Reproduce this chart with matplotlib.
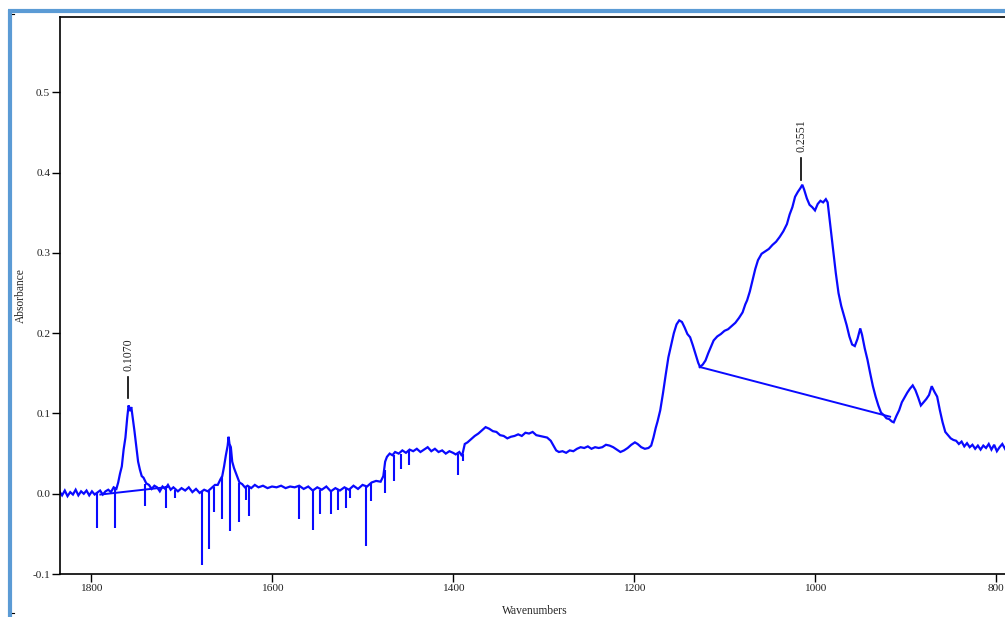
import matplotlib
matplotlib.use("Agg")
import matplotlib.pyplot as plt
from matplotlib.lines import Line2D

# ---- spectrum (wavenumber, absorbance) ----
wavenumber = [
    1835, 1832, 1829, 1826, 1823, 1820, 1817, 1814, 1811, 1808, 1805, 1802, 1799, 1796,
    1790, 1787, 1784, 1781, 1778, 1775, 1772, 1770, 1768, 1766, 1764, 1762, 1760, 1758.5,
    1757, 1755.5, 1754, 1752, 1750, 1748, 1746, 1744, 1742, 1739, 1736, 1733, 1730, 1727,
    1724, 1721, 1718, 1715, 1712, 1709, 1704, 1700, 1696, 1692, 1688, 1684, 1680, 1675,
    1671, 1667, 1663, 1660, 1657, 1655, 1653, 1651, 1649, 1648, 1647, 1645.5, 1644, 1642,
    1640, 1638, 1636, 1633, 1630, 1627, 1623, 1619, 1615, 1610, 1605, 1600, 1595, 1590,
    1585, 1580, 1575, 1570, 1565, 1560, 1555, 1550, 1545, 1540, 1535, 1530, 1525, 1520,
    1515, 1510, 1505, 1500, 1495, 1490, 1485, 1480, 1477, 1475, 1473, 1470, 1467, 1464,
    1460, 1456, 1452, 1448, 1444, 1440, 1436, 1432, 1428, 1424, 1420, 1416, 1412, 1408,
    1404, 1400, 1397, 1393, 1390, 1387, 1384, 1380, 1376, 1372, 1368, 1364, 1360, 1356,
    1352, 1348, 1344, 1340, 1336, 1332, 1328, 1324, 1320, 1316, 1312, 1308, 1304, 1300,
    1296, 1292, 1289, 1286, 1283, 1279, 1275, 1271, 1267, 1263, 1259, 1255, 1251, 1247,
    1243, 1239, 1235, 1231, 1227, 1223, 1219, 1215, 1211, 1207, 1203, 1199, 1196, 1192,
    1188, 1184, 1181, 1178.5, 1176, 1174, 1171, 1168, 1165, 1162, 1159, 1156, 1153, 1150,
    1147, 1144, 1141, 1138, 1135, 1132, 1129, 1127, 1124, 1121, 1118, 1115, 1112, 1108,
    1104, 1100, 1096, 1092, 1088, 1084, 1080, 1077, 1075, 1072, 1069, 1066, 1063, 1059,
    1055, 1051, 1047, 1043, 1039, 1035, 1031, 1028, 1025, 1022, 1019, 1016, 1014, 1012,
    1009, 1006, 1003, 1000, 997, 994, 991, 988, 986, 983, 980, 977, 974, 971,
    968, 965, 962, 959, 956, 953, 950, 948, 945, 942, 939, 936, 933, 930,
    927, 924, 921, 918, 915, 913, 910, 907, 904, 901, 898, 895, 892, 889,
    886, 883, 880, 877, 874, 871, 868, 865, 862, 859, 856, 853, 850, 847,
    844, 841, 838, 835, 832, 829, 826, 823, 820, 817, 814, 811, 808, 805,
    802, 799, 796, 793, 790, 788,
]
absorbance = [
    0.003, -0.002, 0.004, -0.003, 0.002, -0.001, 0.005, -0.002, 0.003, 0.000, 0.004, -0.002, 0.003, -0.001,
    0.004, -0.001, 0.003, 0.005, 0.002, 0.008, 0.006, 0.014, 0.025, 0.034, 0.055, 0.070, 0.095, 0.110,
    0.103, 0.108, 0.095, 0.078, 0.059, 0.040, 0.030, 0.022, 0.020, 0.013, 0.011, 0.006, 0.010, 0.008,
    0.003, 0.009, 0.006, 0.011, 0.005, 0.008, 0.003, 0.007, 0.004, 0.008, 0.002, 0.006, 0.001, 0.005,
    0.003, 0.007, 0.011, 0.011, 0.018, 0.022, 0.034, 0.048, 0.060, 0.071, 0.062, 0.058, 0.040, 0.032,
    0.026, 0.020, 0.014, 0.012, 0.008, 0.010, 0.007, 0.011, 0.008, 0.010, 0.007, 0.009, 0.008, 0.010,
    0.007, 0.009, 0.008, 0.010, 0.006, 0.009, 0.004, 0.008, 0.005, 0.009, 0.003, 0.007, 0.004, 0.008,
    0.005, 0.010, 0.006, 0.011, 0.009, 0.014, 0.016, 0.015, 0.022, 0.040, 0.046, 0.050, 0.048, 0.052,
    0.050, 0.054, 0.051, 0.055, 0.053, 0.056, 0.052, 0.055, 0.058, 0.053, 0.056, 0.052, 0.054, 0.050,
    0.053, 0.051, 0.049, 0.052, 0.047, 0.062, 0.064, 0.068, 0.072, 0.075, 0.079, 0.083, 0.081, 0.078,
    0.077, 0.073, 0.072, 0.069, 0.071, 0.072, 0.074, 0.072, 0.076, 0.075, 0.077, 0.073, 0.072, 0.071,
    0.070, 0.066, 0.060, 0.054, 0.052, 0.053, 0.051, 0.054, 0.053, 0.056, 0.058, 0.057, 0.059, 0.056,
    0.058, 0.057, 0.058, 0.061, 0.060, 0.058, 0.055, 0.052, 0.054, 0.057, 0.061, 0.064, 0.062, 0.058,
    0.056, 0.057, 0.060, 0.070, 0.082, 0.090, 0.104, 0.125, 0.148, 0.170, 0.185, 0.200, 0.211, 0.216,
    0.214, 0.207, 0.199, 0.195, 0.185, 0.174, 0.163, 0.158, 0.161, 0.166, 0.175, 0.183, 0.191, 0.196,
    0.199, 0.203, 0.205, 0.209, 0.213, 0.219, 0.226, 0.236, 0.241, 0.252, 0.266, 0.280, 0.291, 0.299,
    0.302, 0.305, 0.310, 0.314, 0.320, 0.327, 0.336, 0.348, 0.357, 0.370, 0.376, 0.381, 0.385, 0.379,
    0.368, 0.360, 0.357, 0.353, 0.361, 0.365, 0.363, 0.367, 0.363, 0.334, 0.305, 0.275, 0.250, 0.234,
    0.222, 0.210, 0.196, 0.186, 0.184, 0.193, 0.206, 0.198, 0.181, 0.167, 0.150, 0.134, 0.121, 0.110,
    0.101, 0.098, 0.094, 0.093, 0.090, 0.089, 0.097, 0.104, 0.114, 0.120, 0.126, 0.131, 0.135, 0.129,
    0.120, 0.110, 0.114, 0.118, 0.123, 0.134, 0.127, 0.121, 0.104, 0.089, 0.077, 0.073, 0.069, 0.067,
    0.066, 0.062, 0.065, 0.059, 0.063, 0.058, 0.061, 0.056, 0.060, 0.055, 0.060, 0.057, 0.062, 0.055,
    0.061, 0.053, 0.058, 0.062, 0.056, 0.060,
]

# ---- sharp negative spikes (wavenumber, top, bottom) ----
spike_wn = [1793.4, 1773.8, 1740.5, 1716.9, 1707.0, 1677.1, 1669.7, 1664.1, 1655.7, 1646.4,
            1636.4, 1628.7, 1625.0, 1569.7, 1554.9, 1546.7, 1535.3, 1526.8, 1518.7, 1513.5,
            1496.6, 1490.3, 1475.5, 1465.2, 1457.8, 1448.6, 1395.0, 1388.8]
spike_top = [0.002, 0.007, 0.012, 0.010, 0.005, 0.004, 0.004, 0.009, 0.022, 0.060,
             0.014, 0.009, 0.008, 0.009, 0.005, 0.005, 0.004, 0.005, 0.007, 0.006,
             0.010, 0.013, 0.030, 0.048, 0.050, 0.055, 0.050, 0.050]
spike_bottom = [-0.0423, -0.0423, -0.0158, -0.0174, -0.005, -0.0883, -0.0684, -0.0224, -0.0311, -0.0469,
                -0.0357, -0.0075, -0.0282, -0.0315, -0.0448, -0.0252, -0.0249, -0.0208, -0.0174, -0.0058,
                -0.0647, -0.0096, 0.0009, 0.0153, 0.0311, 0.0352, 0.0236, 0.0402]

# ---- peak-height baselines ----
base1_wn = [1789.7, 1715.8]
base1_val = [-0.001, 0.0083]
base2_wn = [1127.5, 917.0]
base2_val = [0.158, 0.096]

# ---- peak annotations ----
peak_wn = [1759, 1015]
peak_mark_lo = [0.119, 0.3905]
peak_mark_hi = [0.1455, 0.418]
peak_labels = ["0.1070", "0.2551"]

x_ticks = [1800, 1600, 1400, 1200, 1000, 800]
y_ticks = [-0.1, 0.0, 0.1, 0.2, 0.3, 0.4, 0.5]

W, H = 1005, 617
fig = plt.figure(figsize=(W / 100, H / 100), dpi=100)
plt.rcParams['font.family'] = ['Liberation Serif', 'DejaVu Serif']

ax = fig.add_axes([60 / W, (H - 574) / H, (1010 - 60) / W, (574 - 17) / H])
blue = '#0a0aff'
ax.plot(wavenumber, absorbance, color=blue, lw=1.6, solid_joinstyle='miter')
ax.vlines(spike_wn, spike_bottom, spike_top, color=blue, lw=1.5)
ax.plot(base1_wn, base1_val, color=blue, lw=1.4)
ax.plot(base2_wn, base2_val, color=blue, lw=1.4)

for w, lo, hi, lab in zip(peak_wn, peak_mark_lo, peak_mark_hi, peak_labels):
    ax.plot([w, w], [lo, hi], color='black', lw=1.2)
    ax.text(w, hi + 0.008, lab, rotation=90, ha='center', va='bottom',
            fontsize=8.5, color='#222222')

ax.set_xlim(1834.3, 784.5)
ax.set_ylim(-0.1, 0.594)
ax.set_xticks(x_ticks)
ax.set_xticklabels([str(t) for t in x_ticks])
ax.set_yticks(y_ticks)
ax.set_yticklabels([f"{t:.1f}" for t in y_ticks])
ax.tick_params(direction='out', length=5.5, width=1.0, labelsize=8.2, pad=1.5,
               colors='black', labelcolor='#222222')
for s in ax.spines.values():
    s.set_linewidth(1.2)
ax.set_xlabel('Wavenumbers', fontsize=8.3, labelpad=9, color='#222222')
ax.set_ylabel('Absorbance', fontsize=8.3, labelpad=4, color='#222222')

# light-blue selection frame (left and top)
frame_c = '#5b9bd5'
fig.add_artist(Line2D([10 / W, 10 / W], [0, 1 - 9.5 / H], transform=fig.transFigure,
                      color=frame_c, lw=3.0, solid_capstyle='butt'))
fig.add_artist(Line2D([8 / W, 1], [1 - 11.3 / H, 1 - 11.3 / H], transform=fig.transFigure,
                      color=frame_c, lw=3.0, solid_capstyle='butt'))
fig.add_artist(Line2D([12 / W, 14 / W], [1 - 14 / H, 1 - 14 / H], transform=fig.transFigure,
                      color='black', lw=0.8))
fig.add_artist(Line2D([12 / W, 14 / W], [1 - 613 / H, 1 - 613 / H], transform=fig.transFigure,
                      color='black', lw=0.8))

fig.savefig('out.png', dpi=100)
